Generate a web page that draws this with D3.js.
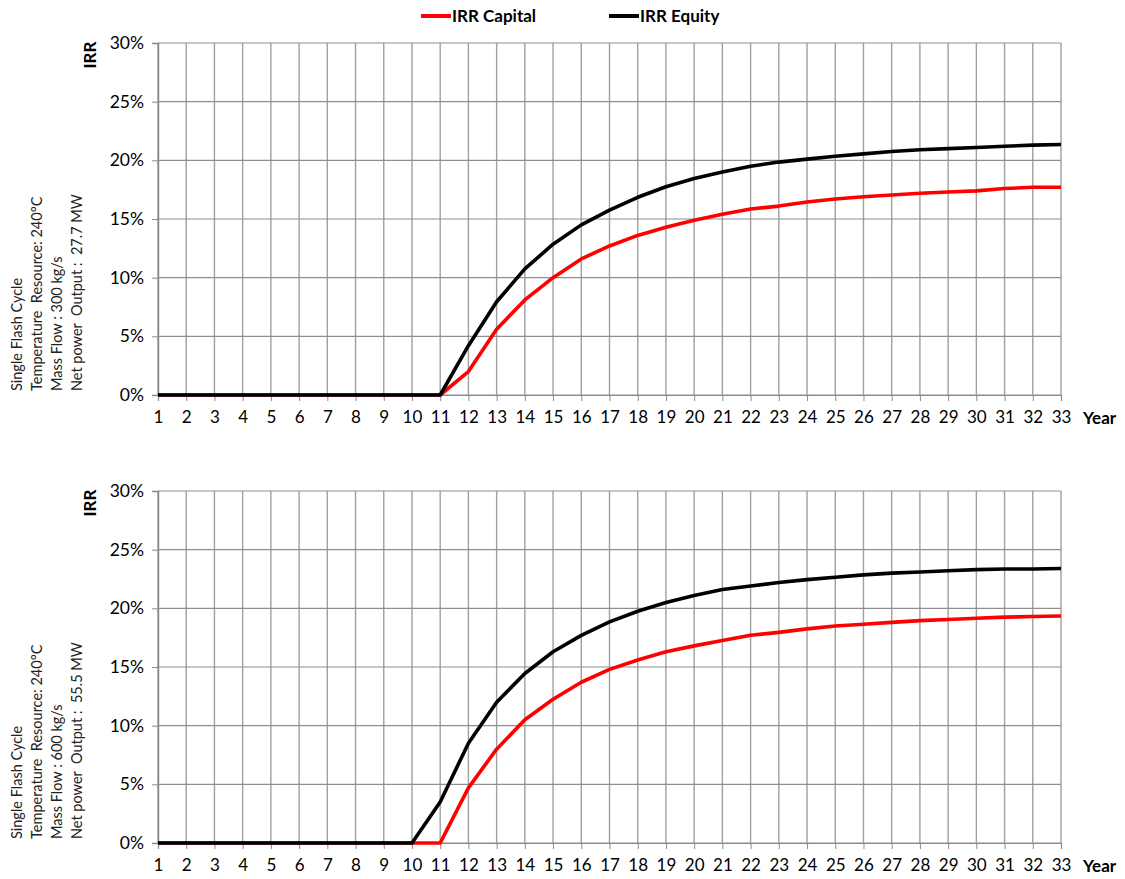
<!DOCTYPE html>
<html><head><meta charset="utf-8">
<script src="https://cdn.jsdelivr.net/npm/d3@7/dist/d3.min.js"></script>
<style>body{margin:0;background:#fff;} svg{display:block;font-family:Lato,"Open Sans",sans-serif;} .pre{white-space:pre;}</style>
</head><body>
<script>
const years = d3.range(1, 34);
const yTicks = [0, 5, 10, 15, 20, 25, 30];
const seriesNames = ["IRR Capital", "IRR Equity"];
const seriesColors = ["#ff0000", "#000000"];

// Chart 1: 300 kg/s
const capital1 = [0,0,0,0,0,0,0,0,0,0,0, 2.0,5.6,8.1,10.0,11.6,12.7,13.6,14.3,14.9,15.4,15.85,16.1,16.45,16.7,16.9,17.05,17.2,17.3,17.4,17.6,17.7,17.7];
const equity1  = [0,0,0,0,0,0,0,0,0,0,0, 4.2,7.95,10.75,12.85,14.5,15.75,16.85,17.75,18.45,19.0,19.5,19.85,20.1,20.35,20.55,20.75,20.9,21.0,21.1,21.2,21.3,21.35];
// Chart 2: 600 kg/s
const capital2 = [0,0,0,0,0,0,0,0,0,0,0, 4.7,8.0,10.5,12.25,13.7,14.8,15.6,16.3,16.8,17.25,17.7,17.95,18.25,18.5,18.65,18.8,18.95,19.05,19.15,19.25,19.3,19.35];
const equity2  = [0,0,0,0,0,0,0,0,0,0,3.5, 8.5,12.0,14.45,16.3,17.7,18.85,19.75,20.5,21.1,21.6,21.9,22.2,22.45,22.65,22.85,23.0,23.1,23.2,23.3,23.35,23.35,23.4];

const labels1 = ["Single Flash Cycle","Temperature  Resource: 240°C","Mass Flow : 300 kg/s","Net power  Output :  27.7 MW"];
const labels2 = ["Single Flash Cycle","Temperature  Resource: 240°C","Mass Flow : 600 kg/s","Net power  Output :  55.5 MW"];

const W = 1125, H = 879;
const svg = d3.select("body").append("svg").attr("width", W).attr("height", H);

// Legend
const leg = svg.append("g");
[[421, 0], [609, 1]].forEach(([x, i]) => {
  leg.append("line").attr("x1", x).attr("x2", x + 30).attr("y1", 16).attr("y2", 16)
    .attr("stroke", seriesColors[i]).attr("stroke-width", 4);
  leg.append("text").attr("x", x + 31).attr("y", 22).attr("font-size", 17).attr("font-weight", "bold")
    .text(seriesNames[i]);
});

function panel(top, capital, equity, labels) {
  const x = d3.scaleLinear().domain([1, 33]).range([158, 1061]);
  const y = d3.scaleLinear().domain([0, 30]).range([top + 352, top]);
  const g = svg.append("g");
  // grid
  g.append("g").selectAll("line").data(years).join("line")
    .attr("x1", d => x(d)).attr("x2", d => x(d)).attr("y1", y(30)).attr("y2", y(0))
    .attr("stroke", "#a0a0a0").attr("stroke-width", 1.4);
  g.append("g").selectAll("line").data(yTicks).join("line")
    .attr("x1", x(1)).attr("x2", x(33)).attr("y1", d => y(d)).attr("y2", d => y(d))
    .attr("stroke", "#8e8e8e").attr("stroke-width", 1.2);
  // axes
  const ya = g.append("g").attr("transform", `translate(${x(1)},0)`)
    .call(d3.axisLeft(y).tickValues(yTicks).tickFormat(d => d + "%").tickSize(6).tickPadding(8));
  ya.select(".domain").attr("stroke", "#8a8a8a").attr("stroke-width", 1.5);
  ya.selectAll(".tick line").attr("stroke", "#8a8a8a");
  ya.selectAll("text").attr("font-size", 17.5).attr("fill", "#000").attr("font-family", "Lato,'Open Sans',sans-serif");
  const xa = g.append("g").attr("transform", `translate(0,${y(0)})`)
    .call(d3.axisBottom(x).tickValues(years).tickFormat(d3.format("d")).tickSize(6).tickPadding(10));
  xa.select(".domain").attr("stroke", "#8a8a8a").attr("stroke-width", 1.2);
  xa.selectAll(".tick line").attr("stroke", "#8a8a8a");
  xa.selectAll("text").attr("font-size", 17).attr("fill", "#000").attr("font-family", "Lato,'Open Sans',sans-serif");
  // lines
  const line = d3.line().x((d, i) => x(years[i])).y(d => y(d));
  [capital, equity].forEach((s, i) => {
    g.append("path").datum(s).attr("d", line).attr("fill", "none")
      .attr("stroke", seriesColors[i]).attr("stroke-width", 3.6).attr("stroke-linejoin", "round");
  });
  // titles
  g.append("text").attr("transform", `translate(96,${top + 12}) rotate(-90)`).attr("text-anchor", "middle")
    .attr("font-size", 17).attr("font-weight", "bold").text("IRR");
  g.append("text").attr("x", 1083).attr("y", y(0) + 29).attr("font-size", 17).attr("font-weight", "bold").text("Year");
  labels.forEach((t, i) => {
    g.append("text").attr("class", "pre").attr("transform", `translate(${22 + i * 20},${top + 348}) rotate(-90)`)
      .attr("font-size", 14.5).attr("fill", "#222").text(t);
  });
}
panel(43, capital1, equity1, labels1);
panel(491, capital2, equity2, labels2);
</script>
</body></html>
